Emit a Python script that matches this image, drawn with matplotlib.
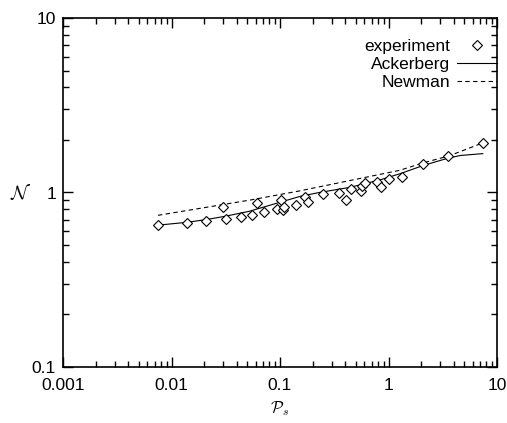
import numpy as np
import matplotlib.pyplot as plt

plt.rcParams['font.family'] = ['Liberation Sans', 'DejaVu Sans']
plt.rcParams['mathtext.fontset'] = 'cm'

# experiment points (P_s, N)
pe = [0.00755, 0.0140, 0.0208, 0.0300, 0.0318, 0.0435, 0.0552, 0.0610, 0.0713, 0.0933,
      0.102, 0.106, 0.110, 0.140, 0.170, 0.181, 0.248, 0.352, 0.403, 0.449,
      0.555, 0.570, 0.607, 0.778, 0.847, 1.005, 1.324, 2.09, 3.51, 7.48]
ne = [0.651, 0.671, 0.684, 0.823, 0.705, 0.726, 0.746, 0.871, 0.776, 0.801,
      0.902, 0.794, 0.829, 0.851, 0.946, 0.882, 0.976, 0.996, 0.902, 1.047,
      1.016, 1.089, 1.138, 1.153, 1.080, 1.195, 1.232, 1.451, 1.612, 1.914]

# Ackerberg curve
pa = [0.0075, 0.014, 0.021, 0.031, 0.052, 0.153, 0.23, 0.44, 0.83, 1.27, 2.1, 3.5, 4.6, 7.4]
na = [0.65, 0.675, 0.70, 0.73, 0.78, 0.95, 1.0, 1.07, 1.18, 1.28, 1.43, 1.57, 1.63, 1.67]

# Newman curve
pn = [0.0075, 0.053, 0.15, 0.5, 1.27, 2.1, 3.6, 7.5]
nn = [0.74, 0.905, 1.02, 1.19, 1.34, 1.48, 1.62, 1.93]

fig = plt.figure(figsize=(5.07, 4.23), dpi=100)
ax = fig.add_axes([63/507, 1-367/423, (497-63)/507, (367-18)/423])

ax.plot(pe, ne, linestyle='none', marker='D', markersize=5.5, markerfacecolor='white',
        markeredgecolor='black', markeredgewidth=0.8, label='experiment', zorder=3)
ax.plot(pa, na, color='black', linewidth=0.8, label='Ackerberg')
ax.plot(pn, nn, color='black', linewidth=0.8, linestyle=(0, (4, 3)), label='Newman')

ax.set_xscale('log')
ax.set_yscale('log')
ax.set_xlim(0.001, 10)
ax.set_ylim(0.1, 10)
ax.set_xticks([0.001, 0.01, 0.1, 1, 10])
ax.set_xticklabels(['0.001', '0.01', '0.1', '1', '10'])
ax.set_yticks([0.1, 1, 10])
ax.set_yticklabels(['0.1', '1', '10'])

ax.tick_params(which='both', direction='in', top=True, right=True, labelsize=12.5, width=1)
ax.tick_params(which='major', length=7)
ax.tick_params(which='minor', length=4)
ax.tick_params(axis='x', which='major', pad=8)
ax.tick_params(axis='y', which='major', pad=5)
for s in ax.spines.values():
    s.set_linewidth(1.2)

ax.set_xlabel(r'$\mathcal{P}_s$', fontsize=12, labelpad=4)
ax.set_ylabel(r'$\mathcal{N}$', fontsize=14, rotation=0, labelpad=8, va='center')

ax.legend(loc='upper right', bbox_to_anchor=(1.0, 0.94), frameon=False, markerfirst=False,
          fontsize=12.5, borderpad=0, borderaxespad=0, handlelength=2.3, handletextpad=0.4,
          labelspacing=0.15, numpoints=1)

fig.savefig('out.png', dpi=100)
